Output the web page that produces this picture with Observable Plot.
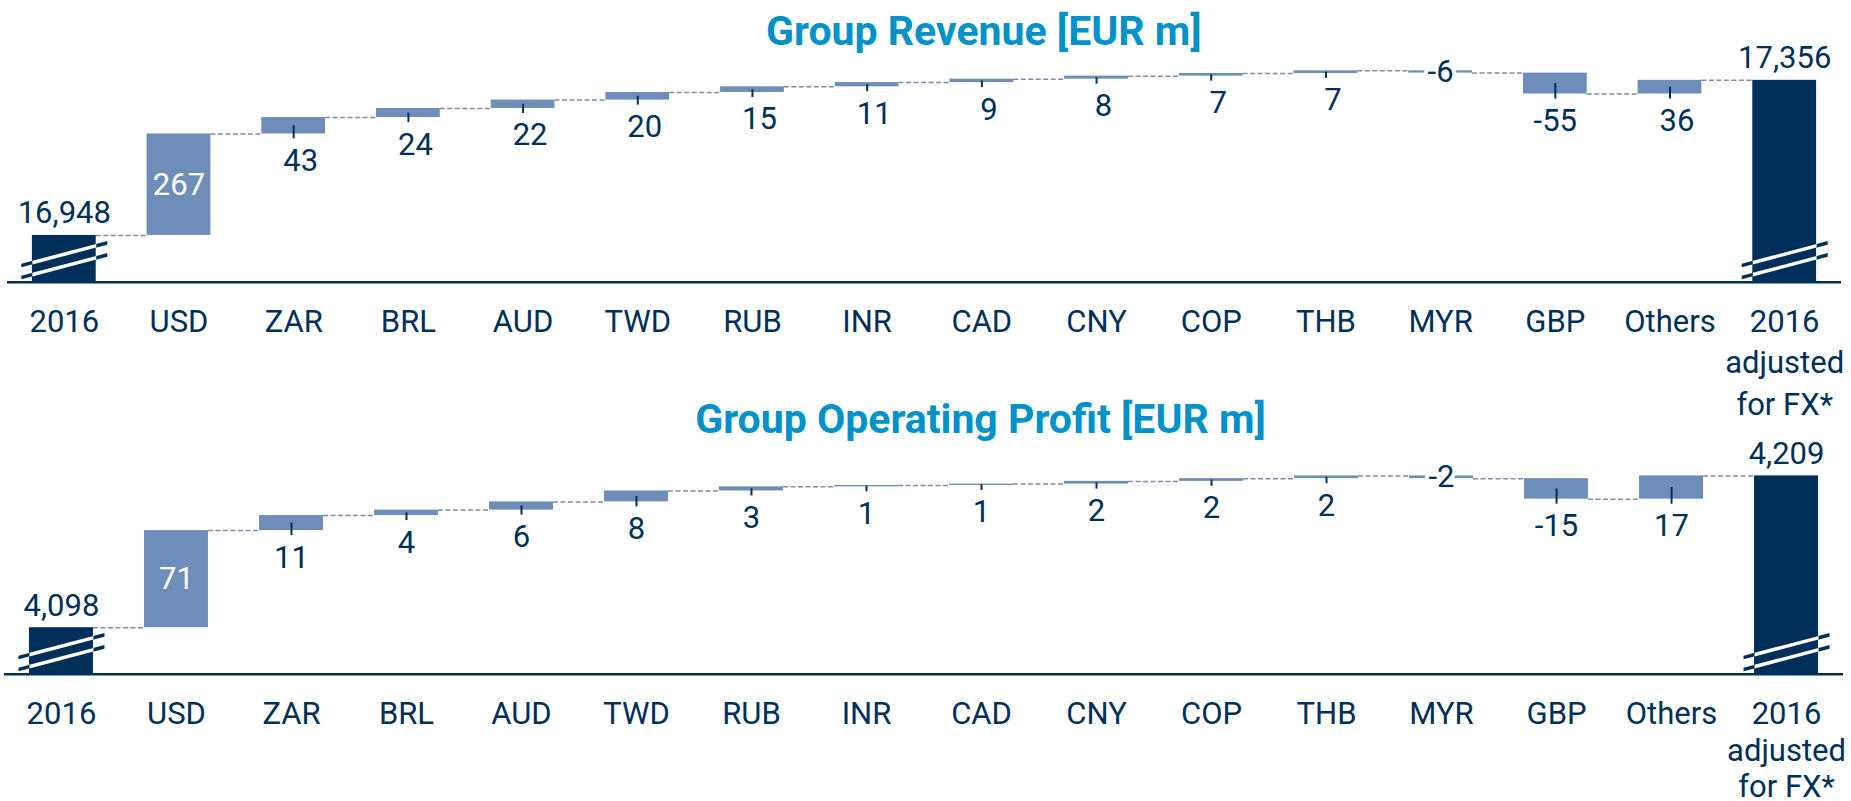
<!DOCTYPE html>
<html>
<head>
<meta charset="utf-8">
<script src="https://cdn.jsdelivr.net/npm/d3@7"></script>
<script src="https://cdn.jsdelivr.net/npm/@observablehq/plot@0.6"></script>
<style>
  html, body { margin: 0; padding: 0; background: #fff; }
  #wrap { position: relative; width: 1851px; height: 801px; overflow: hidden; font-family: Roboto, sans-serif; }
  .title { position: absolute; font-weight: 700; font-size: 41px; line-height: 41px; color: #0092c9; white-space: nowrap; transform: translateX(-50%); }
  .chart { position: absolute; left: 0; }
</style>
</head>
<body>
<div id="wrap"></div>
<script>
// ---------- data ----------
const categories = ["2016", "USD", "ZAR", "BRL", "AUD", "TWD", "RUB", "INR", "CAD", "CNY", "COP", "THB", "MYR", "GBP", "Others", "2016\nadjusted\nfor FX*"];
const revenueValues = [16948, 267, 43, 24, 22, 20, 15, 11, 9, 8, 7, 7, -6, -55, 36, 17356];
const profitValues = [4098, 71, 11, 4, 6, 8, 3, 1, 1, 2, 2, 2, -2, -15, 17, 4209];
const revenueTitle = "Group Revenue [EUR m]";
const profitTitle = "Group Operating Profit [EUR m]";
// y scale domains (broken axis: totals start at the domain minimum)
const revenueDomain = [16825, 17566];
const profitDomain = [4064, 4270];
// label placement for special cases (default: below the bar)
const labelPlacement = {USD: "inside", MYR: "middle"};

// ---------- style ----------
const NAVY = "#00305a";
const STEEL = "#6f8db9";
const DASH = "#7d8da5";
const W = 1851, H = 430, AXIS_Y = 281.7;
const PAD_IN = 0.4435, PAD_OUT = 0.217;
const FS = 31;

function waterfall(values, base) {
  let run = 0;
  return values.map((v, i) => {
    const cat = categories[i];
    if (i === 0 || i === values.length - 1) {
      run = v;
      return {cat, value: v, kind: "total", lo: base, hi: v, end: v};
    }
    const start = run, end = run + v;
    run = end;
    return {cat, value: v, kind: "change", start, end,
      lo: Math.min(start, end), hi: Math.max(start, end), mid: (start + end) / 2,
      place: labelPlacement[cat] || "below"};
  });
}

function slash(halfWidth) {
  const m = 0.263, gap = 6, t = 3.6;
  return {
    draw(ctx) {
      for (const oy of [-gap, gap]) {
        ctx.moveTo(-halfWidth, m * halfWidth + oy - t / 2);
        ctx.lineTo(halfWidth, -m * halfWidth + oy - t / 2);
        ctx.lineTo(halfWidth, -m * halfWidth + oy + t / 2);
        ctx.lineTo(-halfWidth, m * halfWidth + oy + t / 2);
        ctx.closePath();
      }
    }
  };
}

function chart({values, domain, ml, mr, posDx, lineHeight}) {
  const base = domain[0];
  const rows = waterfall(values, base);
  const bw = d3.scaleBand().domain(categories).range([ml, W - mr])
    .paddingInner(PAD_IN).paddingOuter(PAD_OUT).bandwidth();
  const links = rows.slice(0, -1).map((r, i) => ({from: r.cat, to: rows[i + 1].cat, y: r.end}));
  const totals = rows.filter(r => r.kind === "total");
  const changes = rows.filter(r => r.kind === "change");
  const below = changes.filter(r => r.place === "below");
  // first baseline of category labels 50px under the axis
  const catDy = 50 - 0.71 * lineHeight * FS;
  return Plot.plot({
    width: W, height: H,
    marginLeft: ml, marginRight: mr, marginTop: 0, marginBottom: H - AXIS_Y,
    style: {background: "transparent", overflow: "visible", fontFamily: "Roboto, sans-serif"},
    x: {type: "band", domain: categories, paddingInner: PAD_IN, paddingOuter: PAD_OUT, round: false, axis: null},
    y: {domain, axis: null},
    marks: [
      Plot.ruleY(links, {x1: "from", x2: "to", y: "y", insetLeft: bw, insetRight: bw,
        stroke: DASH, strokeWidth: 1.5, strokeDasharray: "5,2.5"}),
      Plot.barY(totals, {x: "cat", y1: "lo", y2: "hi", fill: NAVY}),
      Plot.barY(changes, {x: "cat", y1: "lo", y2: "hi", fill: STEEL}),
      Plot.ruleX(below, {x: "cat", y1: "mid", y2: "lo", insetBottom: -5, stroke: NAVY, strokeWidth: 2}),
      Plot.dot(totals, {x: "cat", frameAnchor: "bottom", dy: -22, symbol: slash(43), fill: NAVY, stroke: "none"}),
      Plot.dot(totals, {x: "cat", frameAnchor: "bottom", dy: -22, symbol: slash(bw / 2), fill: "white", stroke: "none"}),
      Plot.ruleY([base], {stroke: NAVY, strokeWidth: 2.6}),
      // value labels
      Plot.text(totals, {x: "cat", y: "hi", text: d => d3.format(",")(d.value), lineAnchor: "bottom", dy: -12, fontSize: FS, fill: NAVY}),
      Plot.text(below.filter(d => d.value > 0), {x: "cat", y: "lo", text: d => String(d.value), lineAnchor: "bottom", dy: 37, dx: posDx, fontSize: FS, fill: NAVY}),
      Plot.text(below.filter(d => d.value < 0), {x: "cat", y: "lo", text: d => String(d.value), lineAnchor: "bottom", dy: 37, fontSize: FS, fill: NAVY}),
      Plot.text(changes.filter(d => d.place === "inside"), {x: "cat", y: "mid", text: d => String(d.value), lineAnchor: "middle", fontSize: FS, fill: "white"}),
      Plot.text(changes.filter(d => d.place === "middle"), {x: "cat", y: "mid", text: d => String(d.value), lineAnchor: "middle", fontSize: FS, fill: NAVY, stroke: "white", strokeWidth: 8}),
      // category labels
      Plot.text(categories, {x: d => d, text: d => d, frameAnchor: "bottom", lineAnchor: "top", dy: catDy, lineHeight, fontSize: FS, fill: NAVY})
    ]
  });
}

const wrap = document.getElementById("wrap");

function addTitle(text, cx, baseline) {
  const t = document.createElement("div");
  t.className = "title";
  t.textContent = text;
  t.style.left = cx + "px";
  t.style.top = (baseline - 34.5) + "px";
  wrap.appendChild(t);
}

const c1 = chart({values: revenueValues, domain: revenueDomain, ml: 7, mr: 10, posDx: 7, lineHeight: 1.33});
c1.classList.add("chart");
c1.style.top = "0px";
wrap.appendChild(c1);

const c2 = chart({values: profitValues, domain: profitDomain, ml: 4, mr: 8, posDx: 0, lineHeight: 1.18});
c2.classList.add("chart");
c2.style.top = "392.3px";
wrap.appendChild(c2);

addTitle(revenueTitle, 983.8, 45.7);
addTitle(profitTitle, 980.5, 433.3);
</script>
</body>
</html>
